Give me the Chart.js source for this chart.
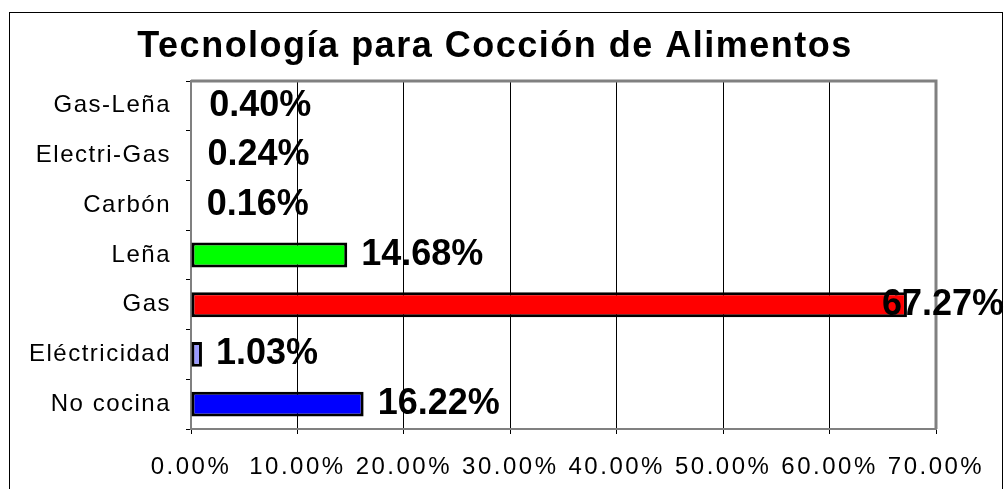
<!DOCTYPE html>
<html>
<head>
<meta charset="utf-8">
<script src="https://cdn.jsdelivr.net/npm/chart.js@4"></script>
<style>
html,body{margin:0;padding:0;background:#fff}
#wrap{width:1005px;height:489px}
</style>
</head>
<body>
<div id="wrap"><canvas id="grafik"></canvas></div>
<script>
let kategori=["Gas-Leña","Electri-Gas","Carbón","Leña","Gas","Eléctricidad","No cocina"]
let nilai=[0.40,0.24,0.16,14.68,67.27,1.03,16.22]
let warna=["rgba(0,0,0,0)","rgba(0,0,0,0)","rgba(0,0,0,0)","#00ff00","#ff0000","#9999ff","#0000ff"]
let tebalGaris=[0,0,0,3,3,3,3]
let tickX=[0,10,20,30,40,50,60,70]

let judul="Tecnología para Cocción de Alimentos"
let huruf="'Liberation Sans', Arial, sans-serif"

// background, outer frame, title and wider letter spacing like the excel picture
let latar={
id:"latar",
beforeUpdate(chart){chart.ctx.letterSpacing="1.5px"},
afterUpdate(chart){
let sx=chart.scales.x
if(sx&&!sx._spasi){
let asli=sx.drawLabels
sx.drawLabels=function(a){
this.ctx.letterSpacing="2.5px"
asli.call(this,a)
this.ctx.letterSpacing="1.5px"
}
sx._spasi=true
}
},
beforeDraw(chart){
let ctx=chart.ctx
ctx.letterSpacing="1.5px"
ctx.save()
ctx.fillStyle="#fff"
ctx.fillRect(0,0,chart.width,chart.height)
ctx.strokeStyle="#000"
ctx.lineWidth=1
ctx.strokeRect(9.5,12.5,993,500)
ctx.font="bold 36px "+huruf
ctx.fillStyle="#000"
ctx.textAlign="center"
ctx.textBaseline="middle"
ctx.fillText(judul,495,47)
ctx.restore()
}
}

let bingkai={
id:"bingkai",
afterDatasetsDraw(chart){
let a=chart.chartArea
let ctx=chart.ctx
ctx.save()
ctx.strokeStyle="#808080"
ctx.lineWidth=3
ctx.beginPath()
ctx.moveTo(a.left,a.top)
ctx.lineTo(a.right,a.top)
ctx.lineTo(a.right,a.bottom)
ctx.stroke()
ctx.restore()
}
}

let labelNilai={
id:"labelNilai",
afterDatasetsDraw(chart){
let ctx=chart.ctx
let meta=chart.getDatasetMeta(0)
ctx.save()
ctx.letterSpacing="0px"
ctx.font="bold 36px "+huruf
ctx.fillStyle="#000"
ctx.textBaseline="middle"
ctx.textAlign="left"
meta.data.forEach((bar,i)=>{
let teks=nilai[i].toFixed(2)+"%"
let w=ctx.measureText(teks).width
let x=bar.x+14
if(x+w>1004)x=1004-w
ctx.fillText(teks,x,bar.y)
})
ctx.restore()
}
}

new Chart(document.getElementById("grafik"),{
type:"bar",
data:{
labels:kategori,
datasets:[{
data:nilai,
backgroundColor:warna,
borderColor:"#000",
borderWidth:tebalGaris,
borderSkipped:false,
categoryPercentage:1,
barPercentage:0.5
}]
},
options:{
indexAxis:"y",
responsive:true,
maintainAspectRatio:false,
animation:false,
layout:{padding:{top:81,left:10,right:69,bottom:0}},
plugins:{
legend:{display:false},
tooltip:{enabled:false},
title:{display:false}
},
scales:{
x:{
min:0,
max:70,
afterBuildTicks(scale){scale.ticks=tickX.map(v=>({value:v}))},
afterFit(scale){scale.height=60},
ticks:{
color:"#000",
padding:19,
font:{family:huruf,size:24},
callback:v=>v.toFixed(2)+"%"
},
grid:{color:"#000",lineWidth:1,tickLength:5,tickColor:"#000"},
border:{color:"#808080",width:2}
},
y:{
afterFit(scale){scale.width=181},
ticks:{
color:"#000",
padding:15,
font:{family:huruf,size:24}
},
grid:{drawOnChartArea:false,tickLength:5,tickColor:"#000",offset:true},
border:{color:"#808080",width:2}
}
}
},
plugins:[latar,bingkai,labelNilai]
})
</script>
</body>
</html>
